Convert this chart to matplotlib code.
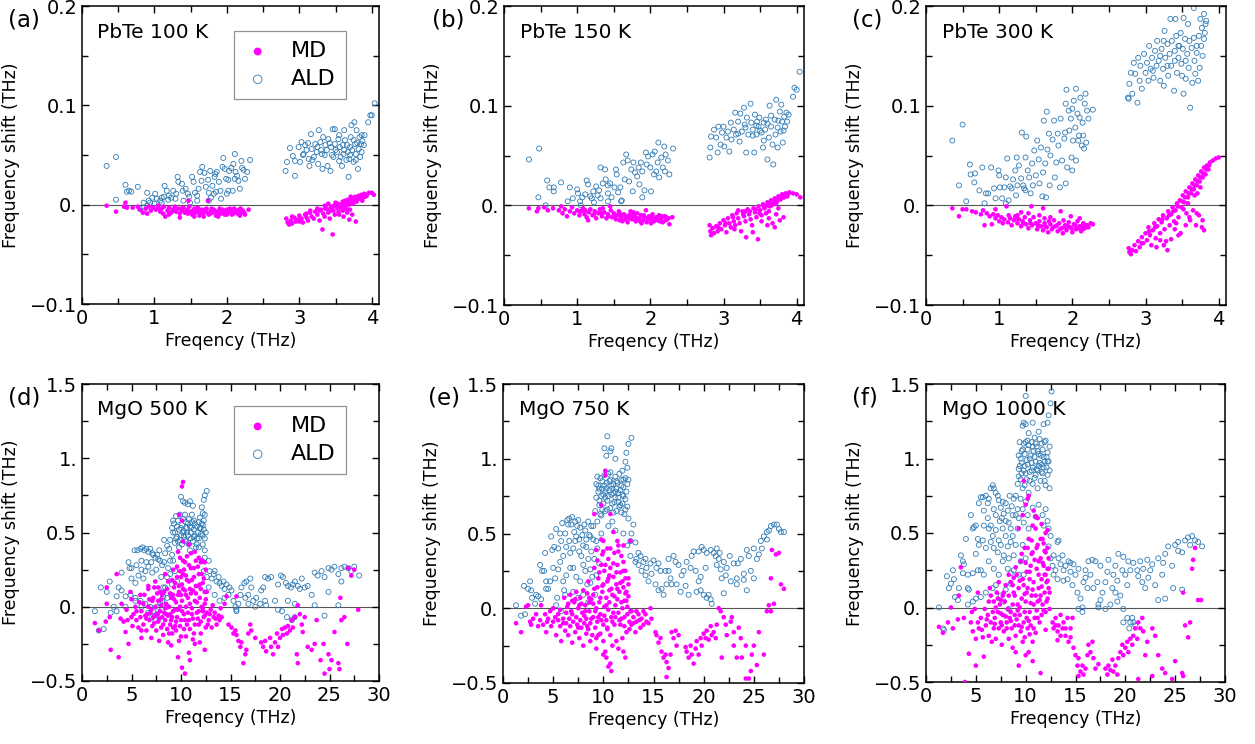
import numpy as np
import matplotlib
matplotlib.use("Agg")
import matplotlib.pyplot as plt

# ---------------- data ----------------
pbte_xticks = [0, 1, 2, 3, 4]
pbte_xticklabels = ["0", "1", "2", "3", "4"]
pbte_yticks = [-0.1, 0.0, 0.1, 0.2]
pbte_yticklabels = ["\u22120.1", "0.", "0.1", "0.2"]
mgo_xticks = [0, 5, 10, 15, 20, 25, 30]
mgo_xticklabels = ["0", "5", "10", "15", "20", "25", "30"]
mgo_yticks = [-0.5, 0.0, 0.5, 1.0, 1.5]
mgo_yticklabels = ["\u22120.5", "0.", "0.5", "1.", "1.5"]

panel_letters = ["(a)", "(b)", "(c)", "(d)", "(e)", "(f)"]
panel_titles = ["PbTe 100 K", "PbTe 150 K", "PbTe 300 K", "MgO 500 K", "MgO 750 K", "MgO 1000 K"]
series_names = ["MD", "ALD"]

a_ald = [(0.34,.039),(0.47,.048),(0.60,.020),(0.62,.013),(0.65,.014),(0.68,.013),(0.77,.018),(0.47,.005),(0.90,.012),(0.85,.002),
(0.92,.004),(0.97,.007),(1.01,.011),(1.03,.006),(1.08,.004),(1.10,.007),(1.13,.008),(1.14,.019),(1.17,.014),(1.20,.009),
(1.23,.007),(1.26,.014),(1.30,.011),(1.32,.028),(1.33,.023),(1.38,.021),(1.39,.014),(1.43,.016),(1.46,.011),(1.48,.008),
(1.52,.028),(1.54,.023),(1.56,.012),(1.59,.009),(1.61,.016),(1.63,.033),(1.65,.024),(1.66,.038),(1.69,.032),(1.71,.018),
(1.74,.025),(1.75,.012),(1.77,.034),(1.78,.007),(1.80,.019),(1.83,.028),(1.84,.031),(1.85,.013),(1.86,.033),(1.89,.023),
(1.91,.014),(1.92,.006),(1.94,.038),(1.95,.047),(1.97,.036),(1.99,.026),(2.00,.011),(2.02,.025),(2.03,.034),(2.06,.037),
(2.08,.014),(2.09,.041),(2.11,.026),(2.11,.051),(2.12,.033),(2.14,.029),(2.16,.024),(2.18,.016),(2.20,.044),(2.21,.037),
(2.23,.035),(2.25,.026),(2.28,.033),(2.32,.045),(2.02,.014),(1.82,.011),(1.75,.004),(1.59,.004),(1.49,.002),(1.40,.004),
(1.29,.006),(1.19,.005),(1.10,.002),(1.00,.001),(0.94,.002),(0.90,-.001),(0.80,-.004),(0.85,-.007),
(2.83,.043),(2.81,.034),(2.87,.057),(2.91,.049),(2.94,.044),(2.94,.029),(2.99,.058),(3.01,.043),(3.03,.063),(3.06,.051),
(3.08,.060),(3.10,.055),(3.13,.046),(3.14,.039),(3.16,.071),(3.17,.056),(3.20,.048),(3.22,.061),(3.24,.053),(3.26,.041),
(3.27,.075),(3.29,.063),(3.31,.051),(3.32,.036),(3.33,.068),(3.36,.060),(3.38,.055),(3.39,.039),(3.40,.066),(3.43,.034),
(3.44,.058),(3.46,.076),(3.47,.048),(3.49,.061),(3.49,.076),(3.52,.053),(3.54,.066),(3.55,.044),(3.56,.058),(3.59,.039),
(3.61,.051),(3.62,.075),(3.63,.065),(3.66,.060),(3.67,.053),(3.68,.028),(3.69,.046),(3.71,.068),(3.72,.080),(3.73,.055),
(3.75,.043),(3.76,.083),(3.77,.061),(3.78,.051),(3.79,.075),(3.81,.036),(3.82,.056),(3.83,.068),(3.84,.048),(3.85,.061),
(3.86,.053),(3.87,.064),(3.89,.060),(3.90,.070),(3.95,.083),(3.98,.090),(4.00,.090),(4.04,.102),
(3.05,.050),(3.12,.062),(3.18,.045),(3.25,.058),(3.35,.050),(3.42,.062),(3.50,.055),(3.57,.048),(3.60,.060),(3.65,.045),
(3.70,.058),(3.75,.065),(3.80,.062),(3.86,.070),(3.30,.055),(3.45,.050),(3.55,.070),(3.70,.050),(3.78,.045),(3.62,.055)]

a_md = [(0.34,-.001),(0.47,-.007),(0.58,-.002),(0.60,.002),(0.62,-.003),(0.70,-.003),(0.77,-.002),(0.80,-.005),(0.84,-.008),(0.88,-.004),
(0.92,-.002),(0.95,-.006),(0.98,-.003),(1.02,-.005),(1.05,-.001),(1.08,-.007),(1.10,-.004),(1.13,-.002),(1.15,-.012),(1.18,-.006),
(1.20,-.003),(1.23,-.008),(1.25,-.005),(1.28,-.002),(1.30,-.007),(1.33,-.004),(1.35,-.009),(1.38,-.006),(1.40,-.003),(1.42,-.008),
(1.45,-.005),(1.47,.004),(1.48,-.002),(1.50,-.007),(1.52,-.010),(1.55,-.004),(1.57,-.008),(1.60,-.006),(1.62,-.011),(1.65,-.005),
(1.67,-.009),(1.70,-.007),(1.72,-.004),(1.74,.004),(1.75,-.010),(1.78,-.006),(1.80,-.008),(1.82,-.005),(1.85,-.011),(1.87,-.007),
(1.90,-.004),(1.92,-.009),(1.95,-.006),(1.97,-.010),(2.00,-.005),(2.02,-.008),(2.05,-.006),(2.07,-.010),(2.10,-.004),(2.12,-.007),
(2.15,-.009),(2.17,-.005),(2.20,-.008),(2.22,-.006),(2.25,-.010),(2.30,-.005),(1.60,-.003),(1.68,-.012),(1.88,-.012),(2.00,-.010),
(1.20,-.010),(0.90,-.009),(1.35,-.013),(1.55,-.012),(1.44,-.007),(1.63,-.008),(1.77,-.009),(1.93,-.007),(2.08,-.008),(2.18,-.011),
(1.05,-.004),(1.12,-.009),(1.27,-.006),(1.37,-.004),(1.46,-.009),(1.53,-.006),(1.58,-.004),(1.64,-.007),(1.69,-.005),(1.73,-.008),
(1.79,-.004),(1.84,-.007),(1.89,-.009),(1.94,-.005),(1.99,-.008),(2.04,-.004),(2.09,-.009),(2.14,-.006),(2.19,-.004),(2.24,-.008),
(2.82,-.014),(2.84,-.018),(2.86,-.020),(2.88,-.016),(2.90,-.019),(2.93,-.013),(2.95,-.017),(2.98,-.015),(3.00,-.011),(3.03,-.014),
(3.05,-.018),(3.08,-.010),(3.10,-.013),(3.12,-.016),(3.15,-.008),(3.17,-.012),(3.20,-.014),(3.22,-.007),(3.25,-.010),(3.28,-.016),
(3.30,-.005),(3.32,-.025),(3.33,-.009),(3.35,-.012),(3.38,-.004),(3.40,-.008),(3.42,-.014),(3.44,-.002),(3.46,-.030),(3.47,-.006),
(3.49,-.010),(3.50,.002),(3.52,-.003),(3.54,-.007),(3.56,.000),(3.58,-.004),(3.60,.003),(3.61,-.012),(3.62,-.002),(3.64,.001),
(3.66,-.008),(3.67,.005),(3.69,-.015),(3.70,.002),(3.72,.006),(3.73,-.010),(3.75,.004),(3.77,.008),(3.78,-.017),(3.80,.005),
(3.82,.009),(3.84,.006),(3.86,.010),(3.88,.007),(3.90,.011),(3.93,.009),(3.96,.012),(4.00,.012),(4.03,.010),(3.55,-.010),
(3.45,-.003),(3.65,-.004),(3.25,-.004),(3.35,-.001),(3.40,.001),(3.70,-.005),(3.60,-.006),(3.57,-.002),(3.68,.000),(3.74,.001),
(3.15,-.006),(3.28,-.006),(3.36,-.004),(3.43,-.006),(3.48,-.001),(3.53,.001),(3.59,.000),(3.63,.004),(3.68,.003),(3.71,.008),
(3.76,.006),(3.79,.003),(3.83,.007),(3.87,.004),(3.91,.008),(2.90,-.012),(3.00,-.017),(3.10,-.009)]

b_ald = [(0.34,.046),(0.48,.057),(0.47,.008),(0.57,.000),(0.59,.025),(0.62,.018),(0.68,.018),(0.68,.014),(0.78,.023),(0.87,.004),
(0.90,.018),(0.94,.007),(1.00,.016),(1.01,.012),(1.04,.004),(1.07,.008),(1.11,.011),(1.13,.025),(1.15,.021),(1.18,.009),
(1.20,.007),(1.22,.014),(1.26,.019),(1.28,.010),(1.32,.038),(1.32,.007),(1.35,.022),(1.38,.036),(1.39,.026),(1.42,.020),
(1.42,.012),(1.45,.022),(1.47,.008),(1.51,.018),(1.53,.036),(1.54,.031),(1.56,.013),(1.59,.018),(1.61,.005),(1.63,.043),
(1.65,.026),(1.67,.051),(1.69,.045),(1.71,.024),(1.74,.036),(1.76,.014),(1.77,.043),(1.79,.033),(1.82,.029),(1.84,.038),
(1.85,.021),(1.87,.043),(1.89,.034),(1.92,.015),(1.94,.053),(1.95,.041),(1.97,.049),(2.00,.038),(2.01,.014),(2.03,.051),
(2.05,.031),(2.06,.054),(2.08,.034),(2.10,.043),(2.11,.063),(2.12,.028),(2.15,.048),(2.17,.038),(2.19,.059),(2.20,.034),
(2.21,.051),(2.24,.045),(2.26,.031),(2.31,.057),(1.42,.004),(1.23,.003),(1.60,.004),(1.89,.008),(1.05,.000),(1.30,.015),
(2.81,.048),(2.82,.058),(2.83,.069),(2.87,.076),(2.90,.068),(2.92,.053),(2.93,.079),(2.96,.061),(2.98,.073),(3.00,.079),
(3.01,.059),(3.04,.068),(3.06,.074),(3.08,.054),(3.10,.083),(3.11,.066),(3.14,.076),(3.16,.093),(3.17,.071),(3.20,.084),
(3.22,.064),(3.23,.092),(3.25,.074),(3.28,.098),(3.29,.081),(3.31,.053),(3.32,.088),(3.34,.071),(3.37,.102),(3.38,.083),
(3.40,.076),(3.42,.053),(3.43,.091),(3.45,.071),(3.46,.084),(3.48,.079),(3.49,.088),(3.52,.073),(3.54,.058),(3.55,.083),
(3.57,.076),(3.58,.086),(3.60,.046),(3.62,.068),(3.63,.100),(3.65,.079),(3.67,.061),(3.68,.041),(3.70,.086),(3.71,.071),
(3.72,.106),(3.74,.078),(3.74,.058),(3.77,.094),(3.78,.074),(3.79,.101),(3.80,.084),(3.81,.063),(3.83,.089),(3.84,.079),
(3.86,.093),(3.87,.084),(3.89,.091),(3.95,.109),(3.97,.118),(4.00,.116),(4.04,.134),
(3.30,.078),(3.45,.080),(3.50,.075),(3.60,.082),(3.65,.090),(3.75,.085),(3.82,.075),(3.40,.070),(3.55,.065),(3.20,.072)]

b_md = [(0.34,-.003),(0.45,-.006),(0.47,-.003),(0.55,-.002),(0.60,-.005),(0.67,-.003),(0.75,-.005),(0.78,-.001),(0.80,-.008),(0.83,-.004),
(0.86,-.011),(0.90,-.006),(0.93,-.002),(0.96,-.008),(1.00,-.005),(1.03,-.010),(1.06,-.006),(1.08,-.003),(1.10,-.009),(1.13,-.012),
(1.16,-.007),(1.18,-.004),(1.21,-.010),(1.24,-.006),(1.26,-.013),(1.29,-.008),(1.31,-.004),(1.34,-.011),(1.37,-.007),(1.40,-.013),
(1.42,-.009),(1.45,-.001),(1.46,-.005),(1.48,-.012),(1.50,-.008),(1.53,-.014),(1.55,-.010),(1.57,-.006),(1.60,-.012),(1.62,-.016),
(1.64,-.009),(1.67,-.013),(1.69,-.017),(1.71,-.010),(1.73,-.006),(1.75,-.014),(1.78,-.011),(1.80,-.016),(1.82,-.008),(1.85,-.013),
(1.87,-.010),(1.90,-.015),(1.92,-.012),(1.94,-.005),(1.95,-.017),(1.98,-.011),(2.00,-.014),(2.03,-.009),(2.05,-.016),(2.08,-.012),
(2.10,-.015),(2.12,-.010),(2.15,-.013),(2.17,-.017),(2.20,-.011),(2.23,-.014),(2.26,-.019),(2.30,-.012),(1.15,-.015),(1.35,-.003),
(1.58,-.015),(1.77,-.007),(2.01,-.018),(1.88,-.018),(1.66,-.011),(1.52,-.010),(1.72,-.013),(1.96,-.013),(2.13,-.016),(2.22,-.012),
(1.03,-.006),(1.11,-.005),(1.23,-.009),(1.33,-.008),(1.43,-.011),(1.51,-.011),(1.59,-.009),(1.65,-.014),(1.70,-.012),(1.76,-.010),
(1.81,-.013),(1.86,-.016),(1.91,-.010),(1.97,-.014),(2.02,-.012),(2.07,-.014),(2.11,-.012),(2.16,-.011),(2.21,-.015),(2.25,-.013),
(2.81,-.020),(2.82,-.026),(2.83,-.030),(2.85,-.023),(2.87,-.028),(2.90,-.021),(2.92,-.026),(2.95,-.018),(2.97,-.024),(3.00,-.015),
(3.02,-.020),(3.04,-.027),(3.06,-.013),(3.08,-.018),(3.10,-.022),(3.12,-.010),(3.14,-.016),(3.16,-.020),(3.18,-.008),(3.20,-.013),
(3.22,-.018),(3.24,-.026),(3.26,-.006),(3.28,-.011),(3.30,-.016),(3.31,-.032),(3.33,-.004),(3.35,-.009),(3.37,-.014),(3.39,-.020),
(3.41,-.003),(3.43,-.007),(3.45,-.012),(3.47,-.034),(3.48,-.001),(3.50,-.005),(3.52,-.010),(3.54,.001),(3.56,-.003),(3.58,-.008),
(3.60,.003),(3.62,-.013),(3.63,-.001),(3.65,.005),(3.67,-.018),(3.68,.002),(3.70,.007),(3.72,-.009),(3.73,.004),(3.75,.009),
(3.77,-.015),(3.78,.006),(3.80,.011),(3.82,-.012),(3.83,.008),(3.85,.012),(3.87,.009),(3.90,.013),(3.95,.012),(4.00,.011),
(4.05,.008),(3.60,-.020),(3.70,-.022),(3.40,-.027),(3.52,-.016),(3.62,-.006),(3.75,-.003),(3.30,-.006),(3.20,-.005),(3.66,.000),
(3.13,-.012),(3.27,-.009),(3.36,-.006),(3.44,-.004),(3.49,-.008),(3.55,-.001),(3.59,.000),(3.64,.002),(3.69,.004),(3.72,.002),
(3.76,.007),(3.81,.008),(3.84,.010),(3.88,.011),(2.93,-.022),(3.03,-.018),(3.15,-.024)]

c_ald = [(0.36,.065),(0.50,.081),(0.45,.020),(0.55,.004),(0.60,.041),(0.61,.031),(0.67,.032),(0.66,.023),(0.77,.038),(0.82,.012),
(0.85,.012),(0.89,.038),(0.93,.017),(0.95,.007),(0.99,.035),(1.00,.030),(1.01,.018),(1.04,.007),(1.07,.018),(1.09,.028),
(1.11,.047),(1.13,.005),(1.15,.019),(1.17,.017),(1.19,.026),(1.22,.035),(1.24,.048),(1.25,.020),(1.27,.040),(1.30,.027),
(1.31,.073),(1.33,.020),(1.34,.017),(1.36,.048),(1.37,.069),(1.39,.035),(1.41,.028),(1.43,.012),(1.45,.042),(1.46,.020),
(1.48,.055),(1.50,.030),(1.52,.065),(1.54,.046),(1.55,.022),(1.57,.058),(1.59,.009),(1.60,.033),(1.61,.085),(1.63,.042),
(1.65,.094),(1.66,.056),(1.68,.072),(1.69,.020),(1.70,.050),(1.73,.066),(1.75,.085),(1.76,.028),(1.78,.043),(1.80,.072),
(1.81,.060),(1.83,.018),(1.84,.087),(1.86,.045),(1.89,.067),(1.90,.073),(1.91,.102),(1.92,.116),(1.93,.038),(1.95,.095),
(1.96,.075),(1.98,.087),(1.99,.048),(2.00,.097),(2.01,.065),(2.02,.105),(2.04,.078),(2.05,.045),(2.05,.117),(2.07,.092),
(2.08,.065),(2.09,.070),(2.10,.088),(2.11,.108),(2.13,.060),(2.14,.083),(2.15,.070),(2.16,.057),(2.17,.102),(2.18,.112),
(2.19,.063),(2.20,.095),(2.22,.087),(2.28,.096),(2.00,.035),(1.91,.022),(1.64,.008),(1.36,.015),(1.23,.010),(1.09,.002),
(0.80,.002),(0.73,.015),
(2.76,.108),(2.77,.107),(2.78,.122),(2.80,.133),(2.82,.112),(2.84,.143),(2.86,.132),(2.89,.103),(2.90,.148),(2.92,.125),
(2.93,.140),(2.95,.117),(2.98,.152),(3.00,.133),(3.02,.143),(3.04,.125),(3.05,.160),(3.07,.137),(3.09,.148),(3.11,.128),
(3.13,.155),(3.15,.140),(3.16,.165),(3.18,.145),(3.20,.125),(3.22,.157),(3.24,.137),(3.25,.120),(3.26,.175),(3.27,.148),
(3.30,.162),(3.31,.130),(3.33,.152),(3.34,.187),(3.35,.140),(3.36,.165),(3.39,.115),(3.40,.155),(3.42,.170),(3.43,.133),
(3.45,.148),(3.46,.160),(3.48,.173),(3.49,.142),(3.51,.157),(3.52,.112),(3.54,.167),(3.55,.127),(3.57,.152),(3.58,.182),
(3.59,.138),(3.61,.098),(3.63,.158),(3.64,.123),(3.66,.168),(3.67,.145),(3.68,.132),(3.70,.153),(3.72,.125),(3.73,.170),
(3.74,.138),(3.75,.187),(3.76,.160),(3.77,.178),(3.78,.150),(3.80,.167),(3.81,.173),(3.82,.182),(3.83,.185),(3.80,.192),
(3.66,.198),(3.52,.188),(3.41,.187),
(3.10,.135),(3.20,.150),(3.30,.140),(3.45,.160),(3.55,.145),(3.60,.165),(3.70,.160),(3.50,.130),(3.40,.145),(3.25,.165)]

c_md = [(0.36,-.003),(0.45,-.011),(0.50,-.004),(0.55,-.004),(0.63,-.006),(0.68,-.007),(0.75,-.009),(0.78,-.005),(0.80,-.020),(0.83,-.008),
(0.87,-.011),(0.90,-.019),(0.92,-.009),(0.95,-.013),(0.98,-.010),(1.00,-.016),(1.03,-.012),(1.05,-.018),(1.07,-.014),(1.10,-.001),
(1.12,-.017),(1.15,-.013),(1.17,-.020),(1.20,-.015),(1.22,-.011),(1.25,-.018),(1.27,-.014),(1.30,-.021),(1.32,-.016),(1.35,-.012),
(1.37,-.019),(1.40,-.023),(1.42,-.015),(1.44,-.001),(1.45,-.020),(1.47,-.012),(1.50,-.018),(1.52,-.024),(1.55,-.016),(1.57,-.021),
(1.60,-.003),(1.60,-.025),(1.62,-.018),(1.65,-.022),(1.67,-.027),(1.70,-.019),(1.72,-.024),(1.75,-.015),(1.77,-.021),(1.80,-.026),
(1.82,-.018),(1.84,-.006),(1.85,-.023),(1.87,-.028),(1.90,-.020),(1.92,-.025),(1.95,-.017),(1.97,-.022),(2.00,-.027),(2.02,-.019),
(2.05,-.024),(2.07,-.016),(2.10,-.021),(2.12,-.026),(2.15,-.018),(2.17,-.023),(2.20,-.020),(2.25,-.018),(2.28,-.019),(1.25,-.010),
(1.40,-.008),(1.55,-.010),(1.70,-.012),(1.98,-.011),(2.10,-.013),(0.95,-.004),(1.30,-.007),(1.88,-.015),(2.14,-.024),(1.62,-.013),
(1.13,-.010),(1.23,-.013),(1.33,-.018),(1.43,-.018),(1.53,-.020),(1.63,-.021),(1.68,-.016),(1.74,-.022),(1.79,-.020),(1.83,-.024),
(1.89,-.022),(1.94,-.021),(1.99,-.023),(2.04,-.020),(2.08,-.023),(2.13,-.021),(2.18,-.020),(2.22,-.022),
(2.77,-.043),(2.78,-.047),(2.80,-.049),(2.82,-.045),(2.85,-.040),(2.87,-.046),(2.90,-.036),(2.92,-.042),(2.95,-.032),(2.97,-.038),
(3.00,-.028),(3.02,-.035),(3.04,-.022),(3.06,-.030),(3.08,-.040),(3.10,-.025),(3.12,-.018),(3.14,-.033),(3.16,-.021),(3.18,-.014),
(3.20,-.028),(3.22,-.017),(3.24,-.010),(3.26,-.024),(3.28,-.036),(3.29,-.013),(3.30,-.045),(3.31,-.006),(3.33,-.020),(3.35,-.009),
(3.37,-.002),(3.39,-.016),(3.41,-.005),(3.43,.002),(3.45,-.012),(3.47,.005),(3.48,-.028),(3.49,-.002),(3.51,.010),(3.53,.003),
(3.55,.014),(3.56,-.008),(3.58,.008),(3.60,.018),(3.61,-.015),(3.62,.012),(3.64,.022),(3.65,-.005),(3.66,.016),(3.68,.026),
(3.69,-.020),(3.70,.020),(3.72,.030),(3.73,-.010),(3.74,.024),(3.76,.034),(3.77,-.022),(3.78,.028),(3.80,.038),(3.80,-.025),
(3.82,.031),(3.84,.040),(3.86,.036),(3.88,.043),(3.92,.045),(3.96,.047),(4.00,.048),(3.55,-.020),(3.45,-.030),(3.40,-.024),
(3.35,-.034),(3.25,-.040),(3.15,-.042),(3.58,.002),(3.67,.010),(3.71,.012),(3.75,.018),(3.52,-.004),
(3.05,-.026),(3.13,-.022),(3.23,-.014),(3.32,-.010),(3.38,-.006),(3.44,-.001),(3.50,.004),(3.54,.008),(3.59,.012),(3.63,.016),
(3.67,.020),(3.71,.024),(3.75,.028),(3.79,.032),(3.83,.036),(3.87,.040),(2.95,-.038),(3.20,-.035),(3.42,-.018),(3.60,-.012),
(3.70,-.008),(3.78,-.015)]

d_ald = [(1.3,-0.03),(1.7,-0.16),(2.2,-0.15),(1.9,0.13),(2.5,0.10),(2.8,0.17),(3.5,0.07),(3.7,0.13),(4.0,0.23),(4.7,0.30),
(4.8,0.26),(5.0,0.26),(5.3,0.38),(5.6,0.38),(5.9,0.39),(6.1,0.40),(6.3,0.38),(6.5,0.39),(6.7,0.37),(6.9,0.39),
(7.1,0.36),(7.2,0.35),(7.4,0.33),(7.6,0.35),(7.7,0.32),(7.9,0.31),(8.1,0.28),(5.0,0.19),(5.4,0.16),(5.7,0.21),
(6.2,0.19),(6.0,0.31),(6.4,0.24),(6.7,0.27),(7.1,0.23),(4.0,0.11),(4.4,0.07),(4.9,0.08),(5.4,0.06),(5.9,0.04),
(6.4,0.02),(6.9,0.00),(7.2,-0.03),(7.6,-0.05),(7.9,0.02),(8.2,0.07),(8.4,0.13),(8.6,0.20),(8.7,0.26),(8.9,0.31),
(9.1,0.35),(8.4,0.36),(8.6,0.41),(8.8,0.39),
(9.1,0.53),(9.2,0.50),(9.3,0.56),(9.5,0.46),(9.6,0.54),(9.7,0.44),(9.7,0.58),(9.8,0.52),(9.9,0.62),(10.0,0.48),
(10.1,0.55),(10.1,0.42),(10.2,0.59),(10.3,0.51),(10.4,0.45),(10.5,0.57),(10.6,0.53),(10.7,0.48),(10.8,0.59),(10.8,0.42),
(10.9,0.54),(11.0,0.50),(11.1,0.57),(11.2,0.44),(11.3,0.52),(11.4,0.56),(11.4,0.48),(11.5,0.40),(11.6,0.54),(11.7,0.50),
(11.8,0.57),(11.8,0.46),(11.9,0.53),(12.0,0.49),(12.1,0.56),(12.2,0.42),(12.3,0.52),(12.4,0.46),(12.4,0.38),(10.0,0.74),
(10.2,0.71),(10.4,0.70),(10.7,0.69),(10.9,0.71),(11.2,0.68),(12.1,0.67),(12.3,0.72),(12.4,0.75),(12.6,0.78),(12.2,0.63),
(9.4,0.50),(9.6,0.47),(10.0,0.53),(10.3,0.47),(10.6,0.50),(11.0,0.53),(11.3,0.47),(11.6,0.46),(12.0,0.53),(12.2,0.48),
(9.2,0.58),(9.5,0.61),(9.9,0.45),(10.2,0.50),(10.5,0.44),(10.7,0.56),(11.0,0.46),(11.3,0.58),(11.6,0.42),(11.9,0.60),
(12.2,0.55),(12.5,0.50),(9.8,0.40),(10.4,0.62),(11.1,0.62),(11.8,0.40),(12.3,0.58),(9.4,0.43),(10.9,0.38),(12.4,0.62),
(7.0,0.30),(7.5,0.25),(8.0,0.20),(8.3,0.30),(6.5,0.30),(6.0,0.25),(5.5,0.28),(7.8,0.38),(8.9,0.45),(8.3,0.45),
(9.2,0.31),(9.4,0.24),(9.6,0.17),(8.9,0.22),(9.1,0.15),(9.0,0.08),(8.6,0.06),(8.2,0.13),(8.1,0.04),(7.7,0.00),
(8.6,0.00),(12.1,0.31),(12.3,0.24),(12.4,0.33),(12.6,0.20),(12.8,0.31),(12.9,0.24),(13.1,0.19),(13.3,0.22),(13.4,0.24),
(13.6,0.17),(13.8,0.20),(13.9,0.16),(14.1,0.14),(14.3,0.17),(14.4,0.12),(14.6,0.15),(14.8,0.08),(14.9,0.13),(15.1,0.11),
(15.3,0.04),(15.5,0.00),(15.6,-0.03),(15.8,0.02),(16.0,0.08),(16.1,0.13),(16.4,0.16),(16.6,0.17),(17.0,0.19),(17.1,0.13),
(16.5,0.06),(16.8,0.08),(17.3,0.04),(17.6,0.06),(18.1,0.11),(18.3,0.13),(18.5,0.20),(18.8,0.19),(19.1,0.20),(19.5,0.04),
(19.8,0.15),(20.1,0.21),(20.3,0.20),(20.6,0.16),(20.8,0.14),(21.1,0.13),(21.3,0.15),(21.5,0.17),(21.8,0.14),(22.0,0.12),
(22.2,0.19),(22.5,0.13),(22.8,0.14),(23.2,0.08),(23.5,0.23),(23.8,0.21),(24.2,0.24),(24.5,0.20),(24.9,0.26),(25.2,0.25),
(25.5,0.27),(25.9,0.22),(26.2,0.26),(26.5,0.27),(26.9,0.26),(27.2,0.24),(27.5,0.27),(28.0,0.21),(26.2,0.17),(24.9,0.10),
(25.9,0.01),(24.5,-0.06),(23.5,0.01),(21.5,0.02),(20.8,0.04),(20.2,-0.03),(19.8,-0.02),(20.7,-0.07),(21.2,-0.09),(21.5,-0.07),
(18.5,0.04),(18.6,0.01),(18.0,0.02),(17.5,0.00),(16.8,0.02),(15.6,-0.02),(14.4,0.06),(13.9,0.04),(13.4,0.08),(12.8,0.13),
(3.5,-0.03),(2.9,-0.04),(3.2,0.00),(4.4,0.00),(5.4,0.04),(6.0,0.00),(6.7,-0.04),(7.1,-0.07),(7.4,-0.09)]

d_md = [(1.3,-0.11),(1.7,-0.16),(2.4,-0.10),(2.5,0.02),(2.5,0.13),(2.9,-0.29),(2.8,-0.07),(3.5,0.22),(3.7,-0.34),(3.9,-0.08),
(4.0,0.02),(4.2,-0.10),(4.4,-0.17),(4.6,-0.09),(4.7,-0.25),(5.0,0.05),(5.1,-0.13),(5.2,-0.05),(5.4,0.00),(5.5,-0.09),
(5.7,-0.14),(5.9,-0.07),(6.0,-0.21),(6.0,-0.03),(6.2,-0.12),(6.3,0.08),(6.4,-0.06),(6.5,-0.16),(6.7,0.00),(6.7,0.12),
(6.8,-0.09),(6.9,-0.04),(7.0,-0.21),(7.1,0.04),(7.1,-0.13),(7.2,-0.07),(7.3,0.13),(7.4,0.00),(7.5,-0.16),(7.6,-0.05),
(7.7,-0.10),(7.7,0.04),(7.8,-0.23),(7.9,-0.03),(8.0,-0.14),(8.1,-0.07),(8.1,0.08),(8.2,-0.19),(8.3,-0.04),(8.4,-0.09),
(8.5,0.02),(8.6,-0.15),(8.7,-0.06),(8.7,-0.24),(8.8,0.00),(8.9,-0.12),(9.0,0.06),(9.1,-0.07),(9.1,-0.18),(9.2,-0.03),
(9.3,0.13),(9.4,-0.13),(9.5,0.03),(9.6,0.20),(9.6,-0.07),(9.7,0.08),(9.8,-0.23),(9.9,0.00),(9.9,0.24),(10.0,-0.09),
(10.1,0.15),(10.1,0.04),(10.2,0.31),(10.3,-0.05),(10.3,-0.15),(10.4,0.11),(10.5,0.21),(10.5,0.00),(10.6,0.34),(10.7,0.06),
(10.8,-0.09),(10.8,0.17),(10.9,0.02),(11.0,0.26),(11.1,-0.05),(11.2,0.11),(11.3,-0.18),(11.3,0.20),(11.4,0.04),(11.5,0.31),
(11.6,-0.04),(11.7,0.14),(11.8,-0.12),(11.8,0.22),(11.9,0.06),(12.0,0.30),(12.1,0.00),(12.2,0.16),(12.3,-0.07),(12.4,0.10),
(12.4,0.02),(12.5,-0.14),(12.6,-0.04),(12.8,-0.09),(12.9,-0.05),(13.1,-0.14),(13.3,-0.07),(13.4,-0.04),(13.6,-0.12),(13.8,-0.06),
(13.9,-0.09),(14.1,-0.07),(14.4,0.02),(14.6,0.07),(14.8,-0.12),(15.1,-0.14),(15.3,-0.18),(15.5,-0.16),(15.6,-0.19),(15.8,-0.23),
(16.0,-0.27),(16.1,-0.24),(16.3,-0.38),(16.5,-0.32),(16.6,-0.29),(16.8,-0.18),(17.0,-0.12),(17.1,-0.16),(17.5,-0.21),(10.1,-0.41),
(10.4,-0.45),(10.9,-0.36),(9.7,-0.34),(10.8,-0.31),(11.4,-0.25),(11.9,-0.24),(12.4,-0.29),(10.2,0.84),(10.1,0.81),(9.8,0.62),
(10.1,0.58),(10.2,0.44),(10.8,0.42),(9.7,0.37),(9.9,0.33),(11.4,0.37),(12.1,0.31),(12.4,0.30),(7.4,0.17),(7.7,0.13),
(6.7,0.14),(5.9,0.08),(4.9,0.10),(18.1,-0.24),(18.3,-0.27),(18.5,-0.23),(18.6,-0.30),(19.0,-0.21),(19.1,-0.27),(19.3,-0.32),
(19.5,-0.24),(19.7,-0.18),(19.8,-0.27),(20.0,-0.21),(20.2,-0.15),(20.3,-0.19),(20.5,-0.14),(20.7,-0.18),(20.8,-0.13),(21.0,-0.16),
(21.2,-0.09),(21.3,-0.14),(21.5,-0.07),(21.7,-0.32),(21.8,-0.38),(22.0,-0.05),(22.2,-0.12),(22.3,-0.17),(22.8,-0.27),(23.2,-0.29),
(23.5,-0.25),(23.7,-0.09),(24.1,-0.36),(24.4,-0.25),(24.5,-0.45),(24.9,-0.32),(25.0,-0.42),(25.2,-0.36),(25.5,-0.17),(25.9,-0.38),
(26.0,-0.42),(26.2,-0.09),(26.5,-0.07),(26.8,-0.25),(26.9,0.26),(27.2,0.21),(27.5,0.25),(27.9,-0.02),(26.1,0.06),(21.8,0.01),
(22.5,-0.07),(15.6,0.07),(9.4,-0.02),(9.8,0.10),(10.0,-0.20),(10.2,0.22),(10.6,-0.12),(10.9,0.12),(11.1,-0.01),(11.5,0.09),
(11.7,-0.08),(12.0,0.12),(12.2,-0.03),(8.9,-0.05),(9.2,0.08),(9.5,-0.10),(8.4,-0.01),(8.0,0.01),(7.3,-0.11),(6.6,-0.05),
(7.0,-0.02),(7.2,0.06),(7.4,-0.06),(7.6,0.09),(7.8,-0.08),(8.0,0.05),(8.2,-0.12),(8.3,0.10),(8.5,-0.05),(8.6,0.12),
(8.8,-0.18),(8.9,0.09),(9.0,-0.09),(9.1,0.18),(9.2,-0.14),(9.3,0.05),(9.4,0.16),(9.5,-0.16),(9.6,0.27),(9.7,-0.02),
(9.8,0.14),(9.9,-0.13),(10.0,0.20),(10.0,0.08),(10.1,-0.03),(10.2,0.12),(10.3,0.25),(10.4,-0.09),(10.5,0.08),(10.6,0.18),
(10.7,-0.04),(10.8,0.28),(10.9,-0.15),(11.0,0.09),(11.1,0.18),(11.2,-0.08),(11.3,0.26),(11.4,-0.12),(11.5,0.14),(11.6,0.03),
(11.7,0.27),(11.8,-0.03),(11.9,0.15),(12.0,-0.10),(12.1,0.22),(12.2,-0.01),(12.3,0.19),(12.4,-0.06),(12.5,0.05),(12.6,0.10),
(12.7,-0.12),(13.0,-0.02),(13.2,0.01),(13.5,-0.08),(14.0,-0.01),(6.0,-0.16),(6.2,0.02),(6.5,-0.08),(6.8,0.05),(5.5,-0.03),
(5.8,0.03),(4.5,-0.02),(5.0,-0.07),(8.7,0.17),(9.2,0.25),(10.4,0.30),(11.0,0.36),(11.8,0.33),(12.5,0.25),(10.5,-0.20),
(11.2,-0.22),(9.0,-0.26),(12.0,-0.18),(8.4,0.22),(7.9,0.10)]

e_ald = [(1.3,0.02),(1.8,-0.05),(2.2,-0.04),(2.1,0.15),(2.5,0.13),(2.7,0.18),(2.8,0.12),(2.9,0.07),(3.3,0.09),(3.5,0.08),
(3.7,0.29),(3.9,0.25),(4.1,0.25),(4.2,0.37),(4.3,0.13),(4.5,0.13),(4.7,0.18),(4.8,0.48),(4.9,0.39),(5.1,0.41),
(5.2,0.20),(5.3,0.53),(5.4,0.07),(5.5,0.26),(5.7,0.50),(5.8,0.45),(5.9,0.57),(6.0,0.18),(6.1,0.12),(6.2,0.50),
(6.3,0.41),(6.4,0.59),(6.5,0.56),(6.6,0.60),(6.7,0.37),(6.8,0.56),(6.9,0.61),(7.0,0.27),(7.1,0.51),(7.2,0.58),
(7.3,0.21),(7.3,0.48),(7.4,0.55),(7.5,0.59),(7.6,0.46),(7.7,0.18),(7.7,0.54),(7.8,0.35),(7.9,0.49),(8.0,0.29),
(8.1,0.56),(8.2,0.25),(8.3,0.41),(8.3,0.46),(8.4,0.16),(8.5,0.33),(8.6,0.49),(8.7,0.26),(8.7,0.17),(8.8,0.38),
(8.9,0.21),(9.0,0.46),(9.1,0.33),(9.2,0.09),(9.3,0.45),
(9.2,0.65),(9.3,0.74),(9.3,0.83),(9.4,0.58),(9.5,0.78),(9.6,0.69),(9.7,0.87),(9.7,0.63),(9.8,0.75),(9.9,0.80),
(10.0,0.70),(10.1,0.89),(10.2,0.78),(10.2,0.65),(10.3,0.84),(10.4,0.72),(10.5,0.90),(10.6,0.79),(10.7,0.67),(10.7,0.86),
(10.8,0.76),(10.9,0.58),(11.0,0.83),(11.1,0.71),(11.2,0.88),(11.2,0.78),(11.3,0.65),(11.4,0.84),(11.5,0.74),(11.6,0.90),
(11.7,0.79),(11.7,0.69),(11.8,0.86),(11.9,0.76),(12.0,0.81),(12.1,0.63),(12.2,0.73),(12.2,0.87),(12.3,0.78),(12.4,0.68),
(12.5,0.60),(9.5,0.82),(9.9,0.85),(10.3,0.80),(10.8,0.82),(11.3,0.80),(11.8,0.82),(10.0,0.76),(10.5,0.75),(11.0,0.77),
(11.5,0.77),(12.0,0.75),(9.6,0.72),(10.9,0.70),(11.9,0.70),
(9.4,0.88),(9.8,0.62),(10.1,0.82),(10.4,0.66),(10.7,0.91),(11.0,0.64),(11.3,0.85),(11.6,0.68),(11.9,0.92),(12.2,0.66),
(12.4,0.83),(9.6,0.80),(10.2,0.74),(10.9,0.80),(11.5,0.71),(12.0,0.86),(9.9,0.66),(10.6,0.85),(11.2,0.74),(11.8,0.64),
(7.0,0.40),(7.6,0.38),(8.2,0.52),(8.5,0.58),(6.0,0.35),(6.6,0.45),(5.5,0.40),(7.2,0.45),(8.0,0.42),(8.8,0.55),
(10.4,1.15),(10.1,1.07),(10.3,1.02),(10.7,1.05),(10.8,1.07),(11.2,1.00),(12.2,0.98),(12.3,1.04),(12.5,1.10),(12.8,1.14),
(12.4,0.94),(12.5,0.86),(12.8,0.50),(12.7,0.45),(13.0,0.56),(13.2,0.44),(12.7,0.35),(13.2,0.31),(13.3,0.33),(13.5,0.29),
(13.7,0.35),(13.8,0.25),(14.0,0.31),(14.2,0.22),(14.3,0.27),(14.5,0.18),(14.7,0.30),(14.8,0.23),(15.0,0.32),(15.2,0.16),
(15.3,0.27),(15.5,0.12),(15.7,0.25),(15.8,0.13),(16.0,0.09),(16.2,0.25),(16.3,0.16),(16.5,0.33),(16.7,0.20),(16.8,0.16),
(17.0,0.35),(17.2,0.31),(17.3,0.16),(17.5,0.29),(17.7,0.11),(18.0,0.25),(18.2,0.15),(18.3,0.31),(18.5,0.09),(18.7,0.27),
(19.0,0.38),(19.2,0.25),(19.3,0.11),(19.5,0.18),(19.7,0.21),(19.8,0.41),(20.0,0.39),(20.2,0.27),(20.3,0.37),(20.5,0.09),
(20.7,0.06),(20.8,0.03),(21.0,0.37),(21.2,0.35),(21.3,0.29),(21.5,0.33),(21.7,0.26),(21.8,0.20),(22.0,0.31),(22.2,0.22),
(22.3,0.27),(22.7,0.18),(23.0,0.30),(23.3,0.20),(23.7,0.33),(24.0,0.23),(24.3,0.39),(24.7,0.25),(25.0,0.40),(25.3,0.33),
(25.7,0.45),(26.0,0.48),(26.3,0.51),(26.7,0.55),(27.0,0.56),(27.3,0.56),(27.7,0.51),(28.0,0.51),(25.5,0.36),(26.3,0.46),
(25.0,0.20),(24.3,0.12),(21.3,0.40),(22.0,0.10),(23.3,0.16),(24.0,0.19),(20.3,0.07),(20.0,0.09),(19.7,0.12),(5.0,0.27),
(4.3,0.18),(5.7,0.31),(6.3,0.22),(6.7,0.27),(6.2,0.09),(7.0,0.11),(7.5,0.07),(8.0,0.09),(8.5,0.04),(3.2,0.03),
(3.8,0.06),(5.3,0.02),(5.8,-0.02),(9.0,0.55),(8.7,0.48),(9.4,0.40),(9.8,0.50),(10.5,0.55),(11.2,0.52),(12.0,0.50),
(12.4,0.42),(9.6,0.30),(9.3,0.22),
(13.5,0.37),(14.2,0.33),(15.5,0.30),(16.5,0.25),(17.8,0.22),(18.8,0.35),(19.5,0.38),(20.7,0.39),(21.6,0.37),(22.6,0.35),
(23.4,0.30),(24.5,0.35),(25.8,0.40),(26.5,0.52),(27.5,0.53)]

e_md = [(1.3,-0.10),(1.8,-0.16),(2.3,0.01),(2.5,0.02),(2.7,-0.09),(2.8,-0.11),(3.0,-0.07),(3.3,-0.04),(3.7,-0.08),(3.8,0.02),
(4.0,-0.11),(4.2,-0.04),(4.3,-0.16),(4.5,-0.07),(4.7,-0.02),(4.8,-0.12),(5.0,-0.09),(5.2,-0.06),(5.3,-0.18),(5.5,-0.08),
(5.7,-0.01),(5.7,-0.12),(5.8,-0.22),(6.0,-0.07),(6.1,0.07),(6.2,-0.15),(6.3,-0.03),(6.3,-0.10),(6.4,0.01),(6.5,-0.18),
(6.6,-0.07),(6.7,0.09),(6.7,-0.12),(6.8,-0.02),(6.9,-0.23),(7.0,-0.09),(7.1,0.04),(7.2,-0.16),(7.3,-0.06),(7.3,0.11),
(7.4,-0.11),(7.5,0.00),(7.6,-0.20),(7.7,-0.08),(7.7,0.07),(7.8,-0.13),(7.9,-0.03),(8.0,-0.25),(8.1,-0.10),(8.2,0.02),
(8.3,-0.17),(8.3,-0.07),(8.4,0.10),(8.5,-0.14),(8.6,-0.02),(8.7,-0.22),(8.7,-0.10),(8.8,0.06),(8.9,-0.18),(9.0,-0.06),
(9.1,0.13),(9.2,-0.13),(9.3,0.00),(9.3,-0.27),(9.4,-0.09),(9.5,0.20),(9.6,0.04),(9.7,-0.17),(9.7,-0.04),(9.8,0.29),
(9.9,0.11),(10.0,-0.11),(10.1,0.01),(10.1,0.25),(10.2,-0.29),(10.3,0.07),(10.3,-0.08),(10.4,0.18),(10.5,0.33),(10.5,-0.01),
(10.6,0.12),(10.7,-0.18),(10.7,0.27),(10.8,-0.06),(10.9,0.09),(11.0,0.21),(11.1,-0.11),(11.1,0.37),(11.2,0.02),(11.3,0.16),
(11.3,-0.22),(11.4,0.29),(11.5,-0.03),(11.6,0.11),(11.7,0.24),(11.7,-0.11),(11.8,0.04),(11.9,0.18),(12.0,0.31),(12.1,-0.06),
(12.2,0.10),(12.2,0.25),(12.3,-0.16),(12.4,0.01),(12.5,0.16),(12.6,-0.09),(12.7,-0.02),(12.8,-0.11),(13.0,-0.06),(13.2,-0.16),
(13.3,-0.09),(13.5,-0.04),(13.7,-0.13),(13.8,-0.07),(14.0,-0.11),(14.2,-0.04),(14.3,-0.09),(14.7,0.00),(14.8,-0.07),(10.2,0.92),
(10.2,0.89),(9.8,0.69),(10.7,0.63),(9.1,0.63),(9.8,0.46),(11.0,0.51),(11.5,0.38),(10.0,0.38),(9.3,0.39),(12.0,0.25),
(12.3,0.11),(12.5,0.20),(12.7,0.45),(10.0,-0.31),(10.3,-0.33),(10.7,-0.37),(10.8,-0.42),(10.5,-0.39),(11.5,-0.27),(12.0,-0.29),
(12.2,-0.33),(15.2,-0.16),(15.3,-0.18),(15.5,-0.23),(15.7,-0.20),(15.8,-0.29),(16.0,-0.33),(16.2,-0.31),(16.3,-0.36),(16.5,-0.40),
(16.7,-0.31),(16.8,-0.16),(17.0,-0.20),(17.2,-0.15),(17.3,-0.25),(17.5,-0.18),(16.3,-0.46),(18.2,-0.26),(18.3,-0.29),(18.5,-0.33),
(18.7,-0.25),(18.8,-0.31),(19.0,-0.37),(19.2,-0.27),(19.3,-0.22),(19.5,-0.31),(19.7,-0.20),(19.8,-0.25),(20.0,-0.17),(20.2,-0.20),
(20.3,-0.15),(20.5,-0.21),(20.7,-0.12),(20.8,-0.18),(21.0,-0.16),(21.2,-0.20),(21.3,-0.11),(21.5,0.00),(21.7,-0.02),(21.8,-0.33),
(22.0,-0.06),(22.2,-0.11),(22.3,-0.18),(22.7,-0.09),(22.8,-0.06),(23.0,-0.16),(23.3,-0.33),(23.7,-0.20),(23.8,-0.33),(24.2,-0.25),
(24.7,-0.42),(24.8,-0.31),(25.0,-0.25),(25.3,-0.38),(25.5,-0.16),(26.0,-0.31),(26.3,-0.02),(26.5,0.02),(26.7,0.20),(26.8,0.39),
(27.0,0.03),(27.2,0.36),(27.5,0.37),(27.7,0.16),(28.0,0.13),(26.7,-0.02),(24.2,-0.47),(24.5,-0.47),(23.5,-0.13),(23.0,-0.25),
(9.5,-0.06),(9.9,0.15),(10.4,-0.14),(10.6,0.22),(11.0,-0.03),(11.4,0.06),(11.8,-0.07),(12.1,0.05),(9.0,0.03),(8.6,0.04),
(6.5,0.03),(6.9,-0.04),(7.2,0.06),(7.5,-0.13),(7.8,0.03),(8.1,-0.05),(8.4,-0.12),(8.6,0.07),(8.8,-0.07),(9.0,0.09),
(9.2,-0.02),(9.4,0.14),(9.5,-0.18),(9.6,0.24),(9.7,0.07),(9.8,-0.08),(9.9,0.36),(10.0,0.16),(10.1,-0.05),(10.2,0.29),
(10.3,0.02),(10.4,-0.13),(10.5,0.20),(10.6,0.04),(10.7,0.40),(10.8,0.13),(10.9,-0.09),(11.0,0.30),(11.1,0.08),(11.2,-0.06),
(11.3,0.24),(11.4,0.13),(11.5,0.42),(11.6,-0.08),(11.7,0.17),(11.8,0.35),(11.9,0.00),(12.0,0.14),(12.1,-0.12),(12.2,0.20),
(12.3,0.05),(12.4,-0.04),(12.5,0.08),(12.6,-0.14),(12.8,-0.02),(13.0,-0.10),(13.3,-0.02),(13.6,-0.08),(14.0,-0.02),(14.5,-0.10),
(8.0,0.12),(8.5,0.18),(9.1,0.27),(9.4,0.32),(10.0,0.45),(10.4,0.40),(11.4,0.45),(12.0,0.42),(9.3,-0.20),(10.0,-0.22),
(10.9,-0.25),(11.9,-0.20),(5.5,-0.04),(6.0,-0.10),(6.9,0.05),(7.6,0.02),(8.2,-0.02),(5.0,0.00),(4.4,-0.09),(3.5,-0.12)]

f_ald = [(1.3,0.00),(1.7,-0.14),(1.8,-0.15),(2.1,0.21),(2.3,0.13),(2.5,0.16),(2.7,0.25),(2.8,0.19),(2.9,0.07),(3.2,0.05),
(3.3,0.13),(3.5,0.35),(3.7,0.31),(3.8,0.29),(4.0,0.46),(4.2,0.13),(4.3,0.12),(4.5,0.62),(4.7,0.53),(4.8,0.54),
(5.0,0.55),(5.2,0.46),(5.3,0.70),(5.5,0.74),(5.7,0.74),(5.8,0.65),(6.0,0.75),(6.2,0.70),(6.3,0.73),(6.5,0.80),
(6.7,0.82),(6.8,0.80),(7.0,0.77),(7.2,0.75),(7.3,0.72),(7.5,0.67),(7.7,0.71),(7.8,0.63),(8.0,0.58),(8.2,0.65),
(8.3,0.57),(8.5,0.53),(8.7,0.62),(8.8,0.73),(9.0,0.75),(9.2,0.66),(9.3,0.60),(5.0,0.36),(5.3,0.42),(5.7,0.45),
(6.0,0.40),(6.3,0.53),(6.5,0.44),(6.7,0.48),(6.8,0.40),(7.0,0.52),(7.2,0.37),(7.3,0.45),(7.5,0.42),(7.7,0.53),
(7.8,0.35),(8.0,0.48),(8.2,0.41),(8.3,0.33),(8.5,0.44),(8.7,0.48),(8.8,0.35),(9.0,0.42),(9.2,0.53),(3.7,0.23),
(4.2,0.22),(4.7,0.23),(5.2,0.25),(5.5,0.25),(5.8,0.22),(6.3,0.31),(6.8,0.26),(7.3,0.22),(7.7,0.31),(8.2,0.26),
(8.5,0.23),(8.8,0.25),(7.0,0.15),(6.7,0.13),(6.0,0.10),(5.5,0.07),(5.0,0.06),(4.7,0.04),(4.2,0.02),(7.5,0.08),
(8.0,0.12),(8.5,0.16),(7.8,0.04),(8.3,-0.01),
(9.2,0.83),(9.3,0.93),(9.3,1.02),(9.4,1.11),(9.5,0.86),(9.6,0.97),(9.7,1.06),(9.7,0.80),(9.8,0.92),(9.9,1.03),
(10.0,1.11),(10.1,0.86),(10.2,0.96),(10.2,1.06),(10.3,0.77),(10.4,0.91),(10.5,1.02),(10.6,1.11),(10.7,0.83),(10.7,0.94),
(10.8,1.05),(10.9,0.87),(11.0,0.98),(11.1,1.08),(11.2,0.80),(11.2,0.92),(11.3,1.03),(11.4,1.13),(11.5,0.85),(11.6,0.96),
(11.7,1.06),(11.7,0.90),(11.8,1.01),(11.9,1.11),(12.0,0.82),(12.1,0.94),(12.2,1.04),(12.2,0.89),(12.3,0.98),(12.4,0.80),
(9.5,1.00),(9.9,0.95),(10.4,1.00),(10.9,1.01),(11.4,0.97),(11.9,0.98),(10.0,0.90),(10.6,0.92),(11.1,0.93),(11.6,0.91),
(12.1,1.01),(9.6,0.90),(10.3,1.09),(11.0,1.10),
(9.4,0.95),(9.8,1.10),(10.1,0.99),(10.4,0.85),(10.7,1.08),(11.0,0.89),(11.3,0.95),(11.6,1.10),(11.9,0.85),(12.2,0.98),
(12.4,1.08),(9.6,1.05),(10.2,1.12),(10.9,1.14),(11.5,1.02),(12.0,1.12),(9.9,0.82),(10.6,0.97),(11.2,1.05),(11.8,0.94),
(9.3,0.88),(12.4,0.92),(6.2,0.60),(6.8,0.66),(7.4,0.58),(8.0,0.70),(8.6,0.68),(7.0,0.62),(7.6,0.60),(8.4,0.75),
(9.0,0.62),(5.8,0.55),(6.5,0.55),
(9.7,1.22),(9.8,1.24),(10.0,1.23),(10.7,1.24),(11.8,1.23),(12.2,1.24),(12.3,1.29),(12.5,1.37),(12.6,1.45),(10.0,1.42),
(10.3,1.17),(11.3,1.18),(9.5,0.73),(9.7,0.66),(9.8,0.57),(10.0,0.71),(10.2,0.62),(10.3,0.53),(10.7,0.67),(11.0,0.61),
(11.3,0.69),(11.7,0.62),(11.8,0.55),(12.0,0.66),(12.2,0.58),(12.3,0.53),(12.5,0.48),(12.3,0.41),(12.5,0.33),(12.7,0.28),
(12.8,0.35),(13.2,0.44),(13.3,0.45),(9.7,0.42),(10.0,0.33),(9.5,0.31),(9.8,0.22),(9.3,0.22),
(12.8,0.22),(13.0,0.25),(13.2,0.19),(13.3,0.33),(13.5,0.29),(13.7,0.35),(13.8,0.25),(14.0,0.28),(14.2,0.19),(14.3,0.31),
(14.5,0.24),(14.7,0.15),(14.8,0.29),(15.0,0.22),(15.2,0.10),(15.3,0.26),(15.5,0.06),(15.7,0.00),(15.8,0.17),(16.0,0.25),
(16.2,0.13),(16.3,0.31),(16.5,0.22),(16.7,0.32),(16.8,0.13),(17.0,0.31),(17.2,0.17),(17.3,0.00),(17.5,0.05),(17.7,0.10),
(18.0,0.17),(18.2,0.24),(18.3,0.32),(18.5,0.02),(18.7,0.13),(18.8,0.22),(19.0,0.28),(19.2,0.18),(19.3,0.36),(19.5,0.08),
(19.7,0.25),(19.8,0.34),(20.0,0.22),(20.2,0.15),(20.3,0.31),(20.5,0.25),(20.7,-0.07),(20.8,-0.10),(21.0,-0.12),(21.2,0.25),
(21.3,0.21),(21.5,0.31),(21.7,0.17),(21.8,0.26),(22.0,0.13),(22.2,0.32),(22.3,0.20),(22.7,0.29),(23.0,0.15),(23.3,0.33),
(23.7,0.22),(24.0,0.36),(24.3,0.41),(24.7,0.28),(25.0,0.42),(25.3,0.44),(25.7,0.37),(26.0,0.45),(26.3,0.47),(26.7,0.48),
(27.0,0.45),(27.3,0.44),(27.7,0.41),(24.8,0.13),(25.7,0.12),(24.0,0.06),(23.3,0.05),(19.2,0.04),(19.8,-0.01),(20.2,-0.07),
(20.5,-0.10),(20.4,-0.14),(19.8,-0.10),(18.0,-0.01),(17.3,0.02),(15.7,-0.03),(15.3,-0.01),
(13.8,0.18),(14.5,0.30),(16.0,0.20),(17.5,0.28),(19.0,0.10),(20.8,0.30),(22.5,0.25),(23.8,0.30),(25.3,0.38),(26.5,0.42)]

f_md = [(1.3,-0.13),(1.7,-0.17),(2.2,-0.10),(2.5,0.00),(2.7,-0.14),(3.2,-0.08),(3.3,0.08),(3.5,0.27),(3.8,-0.07),(3.9,-0.50),
(4.3,-0.31),(4.5,-0.10),(4.7,-0.16),(4.9,-0.01),(5.0,-0.39),(5.2,0.10),(5.2,-0.10),(5.3,-0.14),(5.5,-0.07),(5.7,-0.20),
(5.8,-0.33),(5.9,-0.01),(6.0,-0.12),(6.2,-0.05),(6.3,-0.19),(6.3,0.04),(6.4,0.13),(6.5,-0.10),(6.6,-0.23),(6.7,-0.03),
(6.8,-0.14),(6.8,0.04),(6.9,-0.07),(7.0,-0.21),(7.1,0.10),(7.2,-0.03),(7.3,-0.14),(7.3,0.17),(7.4,0.02),(7.5,-0.10),
(7.6,-0.25),(7.7,0.08),(7.7,-0.05),(7.8,-0.16),(7.9,0.04),(8.0,0.15),(8.1,-0.10),(8.2,-0.01),(8.3,-0.21),(8.3,0.08),
(8.4,-0.07),(8.5,0.17),(8.6,-0.14),(8.7,0.02),(8.7,-0.27),(8.8,0.10),(8.9,-0.05),(9.0,-0.19),(9.1,0.22),(9.2,0.02),
(9.3,-0.12),(9.3,0.13),(9.4,-0.05),(9.5,0.31),(9.6,0.06),(9.7,-0.23),(9.7,0.19),(9.8,-0.10),(9.9,0.40),(10.0,0.04),
(10.1,0.24),(10.2,-0.14),(10.2,0.13),(10.3,0.46),(10.4,-0.03),(10.5,0.28),(10.6,0.08),(10.7,-0.23),(10.7,0.37),(10.8,0.17),
(10.9,-0.07),(11.0,0.53),(11.1,0.26),(11.2,0.04),(11.2,0.42),(11.3,0.13),(11.4,-0.10),(11.5,0.33),(11.6,0.19),(11.7,0.02),
(11.7,0.46),(11.8,0.28),(11.9,0.10),(12.0,0.37),(12.1,0.17),(12.2,0.06),(12.2,0.26),(12.3,0.13),(12.4,-0.01),(9.7,0.62),
(10.0,0.69),(10.2,0.73),(10.3,0.75),(9.8,0.85),(10.7,0.55),(11.0,0.61),(12.2,0.52),(11.8,0.43),(9.3,0.53),(9.3,-0.39),
(10.0,-0.32),(10.7,-0.36),(11.5,-0.44),(10.3,-0.30),(12.7,-0.10),(12.8,-0.14),(13.0,-0.07),(13.2,-0.16),(13.3,-0.12),(13.5,-0.19),
(13.7,-0.14),(13.8,-0.10),(14.0,-0.19),(14.2,-0.07),(14.3,-0.23),(14.5,-0.14),(14.7,-0.07),(14.8,-0.27),(15.0,-0.32),(15.2,-0.39),
(15.3,-0.34),(15.5,-0.43),(15.7,-0.39),(15.8,-0.45),(16.0,-0.41),(16.2,-0.32),(16.3,-0.25),(16.5,-0.30),(16.7,-0.23),(16.8,-0.34),
(17.0,-0.41),(17.3,-0.38),(18.0,-0.41),(18.2,-0.45),(18.3,-0.39),(18.5,-0.42),(18.7,-0.35),(18.8,-0.43),(19.0,-0.39),(19.2,-0.45),
(19.3,-0.34),(19.5,-0.30),(19.7,-0.25),(19.8,-0.32),(20.0,-0.27),(20.2,-0.23),(20.3,-0.30),(20.5,-0.21),(20.7,-0.25),(20.8,-0.19),
(21.0,-0.14),(21.2,-0.21),(21.3,-0.10),(21.5,-0.14),(21.7,-0.07),(21.8,-0.16),(22.0,-0.32),(22.2,-0.23),(22.7,-0.14),(23.0,-0.19),
(23.3,-0.32),(23.7,-0.41),(24.0,-0.44),(24.7,-0.48),(25.0,-0.36),(25.7,-0.44),(25.8,-0.46),(26.0,-0.12),(26.3,-0.20),(26.5,-0.10),
(26.7,0.26),(26.8,0.32),(27.0,0.40),(27.3,0.05),(27.6,0.05),(25.8,0.10),(22.7,-0.46),(21.3,-0.48),(15.3,-0.46),
(9.4,0.00),(9.6,-0.13),(9.9,0.09),(10.1,-0.07),(10.4,0.19),(10.5,-0.12),(10.8,0.02),(11.1,-0.02),(11.3,0.31),(11.5,0.08),
(11.6,-0.05),(11.9,0.22),(12.0,-0.03),(12.3,0.33),(8.9,0.08),(9.1,-0.08),(8.5,-0.03),(8.0,-0.06),(7.5,0.05),(10.6,0.36),
(6.5,0.08),(6.9,-0.11),(7.2,0.06),(7.5,-0.04),(7.8,0.10),(8.1,-0.14),(8.3,0.22),(8.5,-0.09),(8.7,0.15),(8.9,-0.12),
(9.0,0.27),(9.2,-0.02),(9.4,0.18),(9.5,-0.16),(9.6,0.36),(9.8,0.15),(9.9,-0.03),(10.0,0.30),(10.1,0.10),(10.2,0.40),
(10.3,-0.09),(10.4,0.24),(10.5,0.03),(10.6,0.45),(10.7,0.12),(10.8,-0.14),(10.9,0.32),(11.0,0.08),(11.1,0.40),(11.2,-0.07),
(11.3,0.22),(11.4,0.05),(11.5,0.46),(11.6,0.14),(11.7,0.30),(11.8,-0.02),(11.9,0.38),(12.0,0.22),(12.1,0.04),(12.2,0.40),
(12.3,0.26),(12.4,0.10),(12.2,0.18),(12.0,0.50),(11.6,0.56),(11.2,0.60),(10.8,0.65),(9.9,-0.20),(10.4,-0.18),(11.0,-0.17),
(12.0,-0.15),(9.0,-0.30),(8.8,0.20),(7.6,-0.12),(7.0,0.00),(6.1,-0.08),(5.6,-0.15),(5.0,-0.21),(4.6,-0.03),(13.0,-0.12),
(13.5,-0.05),(14.0,-0.14),(14.5,-0.20),(13.2,-0.22)]

# ---------------- styling ----------------
MD_COLOR = "#ff00ff"
ALD_COLOR = "#2f7ab5"
plt.rcParams['font.family'] = ['DejaVu Sans']
plt.rcParams['axes.linewidth'] = 1.1

fig = plt.figure(figsize=(12.55, 7.44), dpi=100)
W, H = 1255.0, 744.0

def ax_rect(l, r, t, b):
    return [l / W, 1 - b / H, (r - l) / W, (b - t) / H]

rects = [ax_rect(82, 379, 6, 304), ax_rect(504, 804, 6, 305), ax_rect(926, 1226, 6, 305),
         ax_rect(82, 379, 384, 681), ax_rect(503, 804, 384, 683), ax_rect(926, 1225, 384, 682)]
letter_pos = [(8, 20), (432, 20), (852, 20), (8, 398), (428, 398), (852, 398)]
datasets = [(a_md, a_ald), (b_md, b_ald), (c_md, c_ald), (d_md, d_ald), (e_md, e_ald), (f_md, f_ald)]

for i, (rect, (md, ald)) in enumerate(zip(rects, datasets)):
    ax = fig.add_axes(rect)
    top = i < 3
    md = np.array(md)
    ald = np.array(ald)
    ax.axhline(0, color="#555555", lw=0.8, zorder=1)
    ax.scatter(ald[:, 0], ald[:, 1], s=13, facecolors="none", edgecolors=ALD_COLOR,
               linewidths=0.6, zorder=2, label=series_names[1])
    ax.scatter(md[:, 0], md[:, 1], s=11, color=MD_COLOR, edgecolors="none", zorder=3,
               label=series_names[0])
    if top:
        ax.set_xlim(0, 4.1)
        ax.set_ylim(-0.1, 0.2)
        ax.set_xticks(pbte_xticks)
        ax.set_xticklabels(pbte_xticklabels)
        ax.set_xticks(np.arange(0.5, 4.1, 1.0), minor=True)
        ax.set_yticks(pbte_yticks)
        ax.set_yticklabels(pbte_yticklabels)
        ax.set_yticks([-0.05, 0.05, 0.15], minor=True)
    else:
        ax.set_xlim(0, 30)
        ax.set_ylim(-0.5, 1.5)
        ax.set_xticks(mgo_xticks)
        ax.set_xticklabels(mgo_xticklabels)
        ax.set_xticks(np.arange(2.5, 30, 5.0), minor=True)
        ax.set_yticks(mgo_yticks)
        ax.set_yticklabels(mgo_yticklabels)
        ax.set_yticks([-0.25, 0.25, 0.75, 1.25], minor=True)
    ax.tick_params(which="both", direction="in", top=True, right=True, labelsize=14, width=1.0)
    ax.tick_params(which="major", length=5)
    ax.tick_params(which="minor", length=4)
    ax.set_xlabel("Freqency (THz)", fontsize=12.5, labelpad=3)
    ax.set_ylabel("Frequency shift (THz)", fontsize=12.5, labelpad=7)
    ax.text(0.052, 0.91 if top else 0.915, panel_titles[i], transform=ax.transAxes,
            fontsize=14.5, ha="left", va="center")
    lx, ly = letter_pos[i]
    fig.text(lx / W, 1 - ly / H, panel_letters[i], fontsize=16.5, ha="left", va="center")
    if i in (0, 3):
        h, l = ax.get_legend_handles_labels()
        leg = ax.legend(h[::-1], l[::-1], loc="upper left",
                        bbox_to_anchor=(0.513, 0.915 if top else 0.925),
                        fontsize=16, markerscale=1.7, frameon=True, fancybox=False,
                        edgecolor="#777777", handletextpad=0.9, borderpad=0.45,
                        labelspacing=0.35, handlelength=1.2, borderaxespad=0)
        leg.get_frame().set_linewidth(0.9)

fig.savefig("out.png", dpi=100)
